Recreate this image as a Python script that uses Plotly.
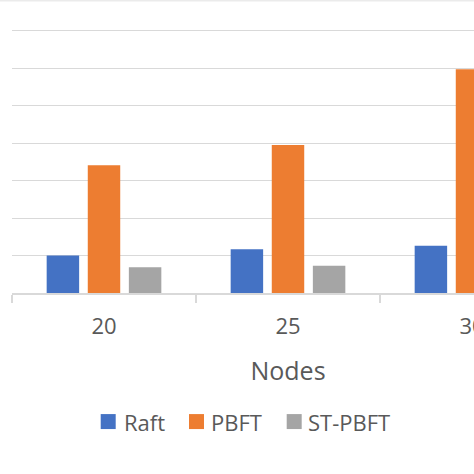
import plotly.graph_objects as go

# ---- data ----
categories = ["20", "25", "30"]
series_names = ["Raft", "PBFT", "ST-PBFT"]
raft = [100, 116.5, 126]
pbft = [341, 395, 597]
st_pbft = [68.5, 73, 78]
colors = ["#4472C4", "#ED7D31", "#A5A5A5"]
values = [raft, pbft, st_pbft]

# the reference is a crop of a wider chart; the figure is wider than the 474px window
W, H = 576, 474
ML, MT, MR = 12, 0, 12
PLOT_H = 293.3
MB = H - MT - PLOT_H
PLOT_W = W - ML - MR

fig = go.Figure()
for name, vals, col in zip(series_names, values, colors):
    fig.add_trace(go.Bar(x=categories, y=vals, name=name, marker_color=col,
                         marker_line_width=0, showlegend=False))

txt = "#595959"
grid = "#d9d9d9"
font = "Open Sans"

fig.update_layout(
    width=W, height=H, autosize=False,
    margin=dict(l=ML, r=MR, t=MT, b=MB, pad=0, autoexpand=False),
    paper_bgcolor="white", plot_bgcolor="white",
    barmode="group", bargap=0.33, bargroupgap=0.21,
    showlegend=False,
    font=dict(family=font, color=txt),
    xaxis=dict(type="category", range=[-0.5, 2.5], automargin=False,
               showline=True, linecolor=grid, linewidth=1.5,
               ticks="outside", tickson="boundaries", ticklen=8, tickcolor=grid, tickwidth=1.5,
               tickfont=dict(size=22, color=txt, family=font),
               ticklabelstandoff=13,
               title=dict(text="Nodes", font=dict(size=25, color=txt, family=font), standoff=23),
               showgrid=False),
    yaxis=dict(range=[0, PLOT_H / 37.5 * 100], dtick=100, showgrid=True, gridcolor=grid, gridwidth=1.3,
               automargin=False,
               showticklabels=False, zeroline=False, showline=False, ticks=""),
)

# top light border
fig.add_shape(type="line", xref="paper", yref="paper", x0=-ML / PLOT_W, x1=1, y0=1, y1=1,
              line=dict(color="#ebebeb", width=3))

# manual legend
sq_left_px = [100.7, 189.0, 286.7]
txt_left_px = [121.5, 208.8, 305.5]
leg_y_px = 422.0
sq = 15
def px_to_paper_x(px):
    return (px - ML) / PLOT_W
def py_to_paper_y(py):
    return (MT + PLOT_H - py) / PLOT_H
for name, col, sx, tx in zip(series_names, colors, sq_left_px, txt_left_px):
    fig.add_shape(type="rect", xref="paper", yref="paper",
                  x0=px_to_paper_x(sx), x1=px_to_paper_x(sx + sq),
                  y0=py_to_paper_y(leg_y_px + sq / 2), y1=py_to_paper_y(leg_y_px - sq / 2),
                  fillcolor=col, line=dict(width=0))
    fig.add_annotation(xref="paper", yref="paper", x=px_to_paper_x(tx), y=py_to_paper_y(leg_y_px),
                       xanchor="left", yanchor="middle", text=name, showarrow=False,
                       font=dict(size=22, color=txt, family=font))

fig.write_html("out.html", config={"displayModeBar": False, "responsive": False},
               post_script="document.body.style.margin='0';document.body.style.padding='0';"
                           "document.body.style.overflow='hidden';"
                           "document.documentElement.style.overflow='hidden';")
